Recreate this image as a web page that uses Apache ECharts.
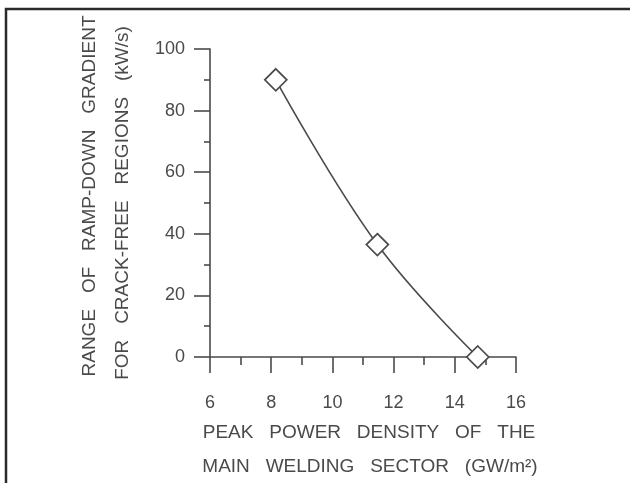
<!DOCTYPE html>
<html>
<head>
<meta charset="utf-8">
<script src="https://cdn.jsdelivr.net/npm/echarts@6/dist/echarts.min.js"></script>
<style>
html,body{margin:0;padding:0;background:#fff;}
#c{width:630px;height:483px;}
</style>
</head>
<body>
<div id="c"></div>
<script>
// Data
var xValues = [8.15, 11.47, 14.75];
var yValues = [90, 36.5, 0];
var xTicks = [6, 8, 10, 12, 14, 16];
var yTicks = [0, 20, 40, 60, 80, 100];
var xTitle = ['PEAK   POWER   DENSITY   OF   THE', 'MAIN   WELDING   SECTOR   (GW/m\u00B2)'];
var yTitle = ['RANGE   OF   RAMP-DOWN   GRADIENT', 'FOR   CRACK-FREE   REGIONS   (kW/s)'];

var FONT = "'Liberation Sans', Arial, sans-serif";
var INK = '#4a4a4a';

var chart = echarts.init(document.getElementById('c'), null, {renderer: 'canvas'});
var points = xValues.map(function (x, i) { return [x, yValues[i]]; });

chart.setOption({
  animation: false,
  backgroundColor: '#ffffff',
  grid: {left: 210, right: 114, top: 49, bottom: 126, containLabel: false},
  xAxis: {
    type: 'value',
    min: xTicks[0], max: xTicks[xTicks.length - 1], interval: 2,
    offset: 10,
    axisLine: {show: true, lineStyle: {color: INK, width: 1.6}},
    axisTick: {show: true, inside: false, length: 16, lineStyle: {color: INK, width: 1.6}},
    minorTick: {show: true, splitNumber: 2, length: 8, lineStyle: {color: INK, width: 1.6}},
    splitLine: {show: false},
    axisLabel: {margin: 27, color: INK, fontSize: 18, fontFamily: FONT}
  },
  yAxis: {
    type: 'value',
    min: yTicks[0], max: yTicks[yTicks.length - 1], interval: 20,
    axisLine: {show: true, lineStyle: {color: INK, width: 1.6}},
    axisTick: {show: true, inside: false, length: 16, lineStyle: {color: INK, width: 1.6}},
    minorTick: {show: true, splitNumber: 2, length: 6, lineStyle: {color: INK, width: 1.6}},
    splitLine: {show: false},
    axisLabel: {margin: 25, color: INK, fontSize: 18, fontFamily: FONT}
  },
  series: [{
    type: 'line',
    data: points,
    smooth: 0.4,
    symbol: 'diamond',
    symbolSize: 22,
    lineStyle: {color: INK, width: 1.6},
    itemStyle: {color: '#ffffff', borderColor: INK, borderWidth: 1.7},
    z: 3
  }],
  graphic: [
    {type: 'polyline', shape: {points: [[6, 483], [6, 9], [630, 9]]},
     style: {stroke: '#2a2a2a', lineWidth: 2.5, fill: null}, silent: true},
    {type: 'text', x: 369, y: 433,
     style: {text: xTitle[0], font: '19px ' + FONT, fill: INK, align: 'center', verticalAlign: 'middle'}},
    {type: 'text', x: 370, y: 467,
     style: {text: xTitle[1], font: '19px ' + FONT, fill: INK, align: 'center', verticalAlign: 'middle'}},
    {type: 'text', x: 90, y: 196, rotation: Math.PI / 2,
     style: {text: yTitle[0], font: '19px ' + FONT, fill: INK, align: 'center', verticalAlign: 'middle'}},
    {type: 'text', x: 123, y: 203, rotation: Math.PI / 2,
     style: {text: yTitle[1], font: '19px ' + FONT, fill: INK, align: 'center', verticalAlign: 'middle'}}
  ]
});
</script>
</body>
</html>
